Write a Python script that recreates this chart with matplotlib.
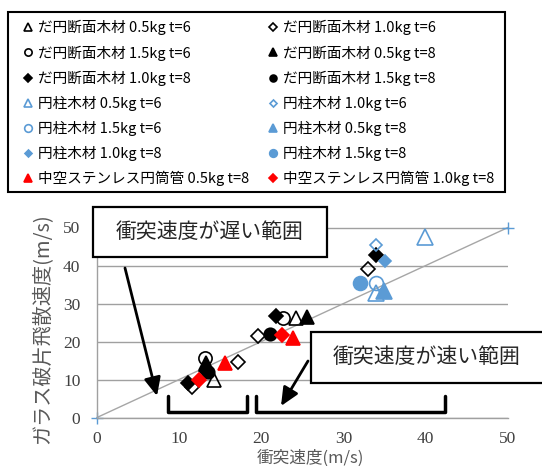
import matplotlib
matplotlib.use('Agg')
import matplotlib.pyplot as plt
from matplotlib.patches import Rectangle, FancyArrowPatch
from matplotlib.lines import Line2D

plt.rcParams['font.family'] = ['Noto Sans CJK JP', 'DejaVu Sans']

W, H = 542, 466

# series labels (legend order)
labels = ['だ円断面木材 0.5kg t=6', 'だ円断面木材 1.0kg t=6',
          'だ円断面木材 1.5kg t=6', 'だ円断面木材 0.5kg t=8',
          'だ円断面木材 1.0kg t=8', 'だ円断面木材 1.5kg t=8',
          '円柱木材 0.5kg t=6', '円柱木材 1.0kg t=6',
          '円柱木材 1.5kg t=6', '円柱木材 0.5kg t=8',
          '円柱木材 1.0kg t=8', '円柱木材 1.5kg t=8',
          '中空ステンレス円筒管 0.5kg t=8', '中空ステンレス円筒管 1.0kg t=8']

# impact velocity (x) / glass fragment velocity (y)
e05t6_x = [14.2, 24.2]
e05t6_y = [9.9, 26.1]
e10t6_x = [11.5, 17.1, 19.6, 33.0]
e10t6_y = [7.9, 14.7, 21.4, 39.0]
e15t6_x = [13.1, 22.6]
e15t6_y = [15.6, 26.3]
e05t8_x = [13.3, 25.6]
e05t8_y = [14.3, 26.5]
e10t8_x = [11.1, 13.3, 21.8, 33.9]
e10t8_y = [9.0, 12.3, 26.7, 42.7]
e15t8_x = [13.5, 21.0]
e15t8_y = [11.9, 22.0]
c05t6_x = [34.0, 39.9]
c05t6_y = [32.8, 47.6]
c10t6_x = [34.0]
c10t6_y = [45.4]
c15t6_x = [34.0]
c15t6_y = [35.3]
c05t8_x = [34.9]
c05t8_y = [33.4]
c10t8_x = [35.0]
c10t8_y = [41.3]
c15t8_x = [32.0]
c15t8_y = [35.3]
s05t8_x = [15.6, 23.8]
s05t8_y = [14.3, 20.8]
s10t8_x = [12.4, 22.5]
s10t8_y = [9.9, 21.7]

ref_x = [0, 50]
ref_y = [0, 50]

BLUE = '#5B9BD5'
RED = '#FF0000'

series = [
    (e05t6_x, e05t6_y, '^', 'black', 'none', 10),
    (e10t6_x, e10t6_y, 'D', 'black', 'none', 7),
    (e15t6_x, e15t6_y, 'o', 'black', 'none', 9.5),
    (e05t8_x, e05t8_y, '^', 'black', 'black', 10),
    (e10t8_x, e10t8_y, 'D', 'black', 'black', 7),
    (e15t8_x, e15t8_y, 'o', 'black', 'black', 9),
    (c05t6_x, c05t6_y, '^', BLUE, 'none', 11),
    (c10t6_x, c10t6_y, 'D', BLUE, 'none', 6.5),
    (c15t6_x, c15t6_y, 'o', BLUE, 'none', 10),
    (c05t8_x, c05t8_y, '^', BLUE, BLUE, 11),
    (c10t8_x, c10t8_y, 'D', BLUE, BLUE, 6.5),
    (c15t8_x, c15t8_y, 'o', BLUE, BLUE, 10),
    (s05t8_x, s05t8_y, '^', RED, RED, 10),
    (s10t8_x, s10t8_y, 'D', RED, RED, 7),
]


def fx(x):
    return x / W


def fy(y):
    return 1 - y / H


fig = plt.figure(figsize=(W / 100, H / 100), dpi=100)
ax = fig.add_axes([fx(97), fy(417.5), (508 - 97) / W, (417.5 - 227.5) / H])

ax.plot(ref_x, ref_y, color='#A6A6A6', lw=1, marker='+', ms=8,
        mec=BLUE, mew=1, clip_on=False, zorder=2)

handles = []
for (xs, ys, m, c, fc, ms), lab in zip(series, labels):
    h, = ax.plot(xs, ys, linestyle='none', marker=m, ms=ms, mec=c, mfc=fc,
                 mew=1.2, label=lab, clip_on=False, zorder=3)
    handles.append(h)

ax.set_xlim(0, 50)
ax.set_ylim(0, 50)
ax.set_xticks(range(0, 51, 10))
ax.set_yticks(range(0, 51, 10))
ax.grid(axis='y', color='#A0A0A0', lw=1)
ax.set_axisbelow(True)
for s in ['top', 'right']:
    ax.spines[s].set_visible(False)
for s in ['left', 'bottom']:
    ax.spines[s].set_color('#A0A0A0')
    ax.spines[s].set_linewidth(1)
ax.tick_params(length=0, pad=12, labelsize=12.5, labelcolor='#404040')
ax.tick_params(axis='x', pad=10)
for t in ax.get_xticklabels() + ax.get_yticklabels():
    t.set_family('Liberation Serif')

ax.set_ylabel('ガラス破片飛散速度(m/s)', fontsize=14.5, color='#595959')
ax.yaxis.set_label_coords((53 - 97) / 411, 0.47)
ax.set_xlabel('衝突速度(m/s)', fontsize=12, color='#595959')
ax.xaxis.set_label_coords(0.52, (417.5 - 450) / 190)

# legend (row-wise order like the original)
order = handles[0::2] + handles[1::2]
fig.legend(handles=order, labels=[h.get_label() for h in order], ncol=2,
           mode='expand', loc='upper left', frameon=False,
           bbox_to_anchor=(fx(23), fy(190), (494 - 23) / W, (190 - 20) / H),
           borderaxespad=0, borderpad=0, fontsize=10.5, markerscale=0.55,
           handlelength=0.7, handletextpad=0.3, labelspacing=0.69,
           columnspacing=1)
fig.patches.append(Rectangle((fx(8), fy(192)), (505 - 8) / W, (192 - 12) / H,
                             transform=fig.transFigure, fill=False,
                             ec='black', lw=1.5))

# annotation boxes
for x0, y0, x1, y1, tx, ty, s in [
        (93, 207, 327, 257, 210, 232, '衝突速度が遅い範囲'),
        (311, 332, 600, 383, 427, 357, '衝突速度が速い範囲')]:
    fig.patches.append(Rectangle((fx(x0), fy(y1)), (x1 - x0) / W, (y1 - y0) / H,
                                 transform=fig.transFigure, fc='white',
                                 ec='black', lw=1.6, zorder=5))
    fig.text(fx(tx), fy(ty), s, ha='center', va='center', fontsize=15,
             color='#262626', zorder=6)

# arrows
for (xa, ya), (xb, yb) in [((125, 268), (157, 396)), ((308, 361), (281, 406))]:
    fig.patches.append(FancyArrowPatch((fx(xa), fy(ya)), (fx(xb), fy(yb)),
                                       transform=fig.transFigure,
                                       arrowstyle='-|>,head_length=1.1,head_width=0.5',
                                       mutation_scale=10, lw=2, color='black',
                                       shrinkA=0, shrinkB=0, zorder=6))

# brackets
for xl, xr in [(168, 247), (256, 445)]:
    fig.lines.append(Line2D([fx(xl), fx(xl), fx(xr), fx(xr)],
                            [fy(396), fy(412), fy(412), fy(396)],
                            transform=fig.transFigure, color='black', lw=2.5,
                            solid_joinstyle='round', solid_capstyle='round'))

fig.savefig('out.png', dpi=100)
